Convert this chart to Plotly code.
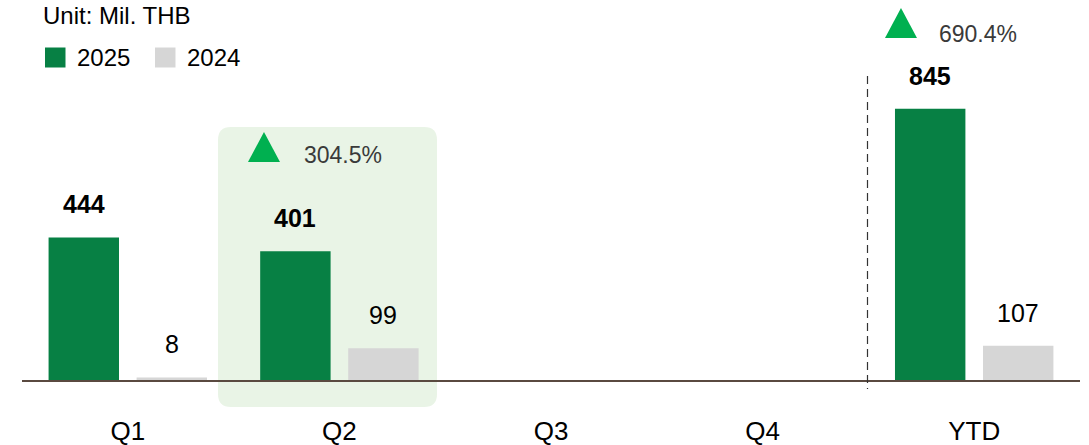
import plotly.graph_objects as go

# ---- data ----
categories = ["Q1", "Q2", "Q3", "Q4", "YTD"]
values_2025 = [444, 401, None, None, 845]
values_2024 = [8, 99, None, None, 107]
series_names = ["2025", "2024"]
growth_categories = ["Q2", "YTD"]
growth_labels = ["304.5%", "690.4%"]
unit_label = "Unit: Mil. THB"

# ---- style ----
GREEN = "#078044"
GRAY = "#d6d6d6"
TRI = "#00b050"
BOX = "#e9f4e6"
FONT = "Liberation Sans, Arial, Helvetica, sans-serif"

W, H = 1089, 445
ML, MR, MT, MB = 22, 9, 0, 65
PW = W - ML - MR
PH = H - MT - MB


def px(xp):
    return (xp - ML) / PW


def py(yp):
    return (MT + PH - yp) / PH


fig = go.Figure()
fig.add_trace(go.Bar(x=categories, y=values_2025, name=series_names[0],
                     marker=dict(color=GREEN, line=dict(width=0))))
fig.add_trace(go.Bar(x=categories, y=values_2024, name=series_names[1],
                     marker=dict(color=GRAY, line=dict(width=0))))

annotations = []
shapes = []

# value labels
for vals, shift, bold in ((values_2025, -44, True), (values_2024, 44, False)):
    for c, v in zip(categories, vals):
        if v is None:
            continue
        annotations.append(dict(
            x=c, y=v, xref="x", yref="y", xshift=shift, yshift=33,
            text=f"<b>{v}</b>" if bold else str(v), showarrow=False,
            font=dict(family=FONT, size=25, color="#000"),
            xanchor="center", yanchor="middle"))


def rounded_rect(x0, y0, x1, y1, r):
    def P(x, y):
        return f"{px(x):.5f},{py(y):.5f}"
    return (f"M {P(x0 + r, y0)} L {P(x1 - r, y0)} Q {P(x1, y0)} {P(x1, y0 + r)} "
            f"L {P(x1, y1 - r)} Q {P(x1, y1)} {P(x1 - r, y1)} "
            f"L {P(x0 + r, y1)} Q {P(x0, y1)} {P(x0, y1 - r)} "
            f"L {P(x0, y0 + r)} Q {P(x0, y0)} {P(x0 + r, y0)} Z")


# highlight box behind Q2
shapes.append(dict(type="path", xref="paper", yref="paper",
                   path=rounded_rect(218, 127, 437, 407, 13),
                   fillcolor=BOX, line=dict(width=0), layer="below"))

# dashed separator
shapes.append(dict(type="line", xref="paper", yref="paper",
                   x0=px(867.5), x1=px(867.5), y0=py(76), y1=py(389),
                   line=dict(color="#333333", width=1.2, dash="8px,5px")))

# growth triangles + text
tri_pos = {"Q2": (264, 132, 162), "YTD": (901, 8, 38)}
text_y = {"Q2": 155, "YTD": 34}
for c, lab in zip(growth_categories, growth_labels):
    ax, top, bot = tri_pos[c]
    path = (f"M {px(ax):.5f},{py(top):.5f} L {px(ax + 16):.5f},{py(bot):.5f} "
            f"L {px(ax - 16):.5f},{py(bot):.5f} Z")
    shapes.append(dict(type="path", xref="paper", yref="paper", path=path,
                       fillcolor=TRI, line=dict(width=0)))
    annotations.append(dict(
        x=c, xref="x", xshift=-37, y=py(text_y[c]), yref="paper",
        text=lab, showarrow=False, xanchor="left", yanchor="middle",
        font=dict(family=FONT, size=23, color="#3a3a3a")))

# unit label
annotations.append(dict(x=px(41), y=py(15), xref="paper", yref="paper",
                        text=unit_label, showarrow=False, xanchor="left",
                        yanchor="middle",
                        font=dict(family=FONT, size=24, color="#000")))

# manual legend
for name, col, sx, tx in ((series_names[0], GREEN, 45, 75),
                          (series_names[1], GRAY, 155, 185)):
    shapes.append(dict(type="rect", xref="paper", yref="paper",
                       x0=px(sx), x1=px(sx + 20.5), y0=py(47.5), y1=py(67.5),
                       fillcolor=col, line=dict(width=0)))
    annotations.append(dict(x=px(tx), y=py(57.5), xref="paper", yref="paper",
                            text=name, showarrow=False, xanchor="left",
                            yanchor="middle",
                            font=dict(family=FONT, size=24, color="#000")))

fig.update_layout(
    width=W, height=H,
    margin=dict(l=ML, r=MR, t=MT, b=MB, pad=0, autoexpand=False),
    barmode="group", bargap=0.168, bargroupgap=0.2,
    showlegend=False,
    paper_bgcolor="white", plot_bgcolor="rgba(0,0,0,0)",
    font=dict(family=FONT, color="#000"),
    xaxis=dict(type="category", range=[-0.5, 4.5], showline=True,
               linecolor="#5a4a40", linewidth=1.5, ticks="", showgrid=False,
               zeroline=False, tickfont=dict(family=FONT, size=26, color="#000"),
               ticklabelstandoff=27, automargin=False, fixedrange=True),
    yaxis=dict(range=[0, 380 / 0.321], visible=False, showgrid=False,
               zeroline=False, automargin=False, fixedrange=True),
    shapes=shapes, annotations=annotations,
)

fig.write_html(
    "out.html",
    config={"displayModeBar": False},
    post_script="document.body.style.margin='0';document.body.style.overflow='hidden';",
)
